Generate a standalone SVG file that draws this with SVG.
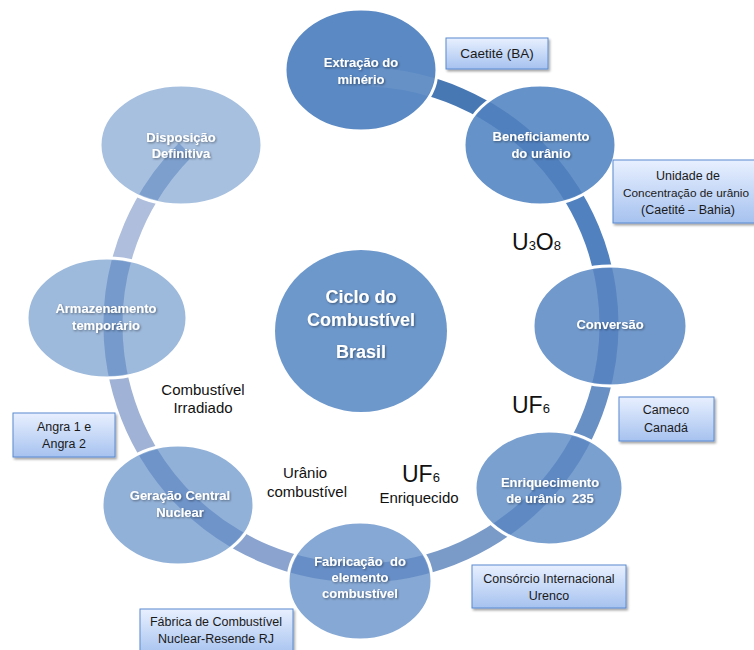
<svg xmlns="http://www.w3.org/2000/svg" width="754" height="650" viewBox="0 0 754 650">
<defs>
<style>
.seg{fill:none;stroke-width:19;stroke-linecap:butt}
.node{stroke:#fff;stroke-width:3}
.nt{font-family:"Liberation Sans",Arial,sans-serif;font-weight:bold;font-size:13px;fill:#fff;text-anchor:middle;filter:url(#ts)}
.ct{font-family:"Liberation Sans",Arial,sans-serif;font-weight:bold;font-size:18px;fill:#fff;text-anchor:middle;filter:url(#ts)}
.box{fill:url(#bg);stroke:#5a8ad0;stroke-width:1;filter:url(#bs)}
.bt{font-family:"Liberation Sans",Arial,sans-serif;font-size:12.5px;fill:#1a1a1a;text-anchor:middle}
.lb{font-family:"Liberation Sans",Arial,sans-serif;font-size:15px;fill:#111;text-anchor:middle}
.big{font-family:"Liberation Sans",Arial,sans-serif;font-size:23px;fill:#111}
.sub{font-size:13px}
</style>
<linearGradient id="bg" x1="0" y1="0" x2="0" y2="1">
<stop offset="0" stop-color="#e8f0ff"/>
<stop offset="1" stop-color="#a6c2ef"/>
</linearGradient>
<filter id="ts" x="-10%" y="-30%" width="120%" height="160%">
<feDropShadow dx="1" dy="1" stdDeviation="0.8" flood-color="#000" flood-opacity="0.45"/>
</filter>
<filter id="bs" x="-10%" y="-20%" width="125%" height="150%">
<feDropShadow dx="1.5" dy="2" stdDeviation="1.2" flood-color="#000" flood-opacity="0.35"/>
</filter>
<clipPath id="cin">
<ellipse cx="540" cy="145" rx="74" ry="58"/>
<ellipse cx="610" cy="326" rx="75" ry="58"/>
<ellipse cx="549" cy="488" rx="72" ry="55"/>
<ellipse cx="360" cy="581" rx="70" ry="57"/>
<ellipse cx="178" cy="505" rx="74" ry="58"/>
<ellipse cx="107" cy="318" rx="78" ry="58"/>
<ellipse cx="181" cy="145" rx="79" ry="58"/>
</clipPath>
<clipPath id="cex">
<ellipse cx="361" cy="70" rx="74" ry="59"/>
</clipPath>
</defs>
<rect width="754" height="650" fill="#fff"/>
<g id="connectors">
<path class="seg" stroke="#4878b4" d="M369.7 77.1 A248 248 0 0 1 535.7 149"/>
<path class="seg" stroke="#5182bf" d="M535.7 149 A248 248 0 0 1 609 325"/>
<path class="seg" stroke="#6890c4" d="M609 325 A248 248 0 0 1 548.2 487.7"/>
<path class="seg" stroke="#7a9ac8" d="M548.2 487.7 A248 248 0 0 1 361 573"/>
<path class="seg" stroke="#8aa4cf" d="M361 573 A248 248 0 0 1 184.1 498.8"/>
<path class="seg" stroke="#a0b2d5" d="M184.1 498.8 A248 248 0 0 1 113.1 318.1"/>
<path class="seg" stroke="#aebedc" d="M113.1 318.1 A248 248 0 0 1 185.6 149.6"/>
</g>
<g id="center">
<ellipse cx="361" cy="331" rx="86" ry="81" fill="#6d98cc"/>
<text class="ct" x="361" y="303">Ciclo do</text>
<text class="ct" x="361" y="326">Combustível</text>
<text class="ct" x="361" y="358">Brasil</text>
</g>
<g id="n1"><ellipse class="node" cx="361" cy="70" rx="76" ry="61" fill="#5b89c3"/></g>
<g id="n2"><ellipse class="node" cx="540" cy="145" rx="76" ry="60" fill="#6592c8"/></g>
<g id="n3"><ellipse class="node" cx="610" cy="326" rx="77" ry="60" fill="#7199cc"/></g>
<g id="n4"><ellipse class="node" cx="549" cy="488" rx="74" ry="57" fill="#7aa0d0"/></g>
<g id="n5"><ellipse class="node" cx="360" cy="581" rx="72" ry="59" fill="#86a8d4"/></g>
<g id="n6"><ellipse class="node" cx="178" cy="505" rx="76" ry="60" fill="#92b1d8"/></g>
<g id="n7"><ellipse class="node" cx="107" cy="318" rx="80" ry="60" fill="#9db9db"/></g>
<g id="n8"><ellipse class="node" cx="181" cy="145" rx="81" ry="60" fill="#a7c0df"/></g>
<g id="band">
<path clip-path="url(#cin)" fill="none" stroke="rgb(40,90,170)" stroke-opacity="0.33" stroke-width="19" d="M369.7 77.1 A248 248 0 1 1 185.6 149.6"/>
<path clip-path="url(#cex)" fill="none" stroke="#fff" stroke-opacity="0.07" stroke-width="19" d="M369.7 77.1 A248 248 0 0 1 535.7 149"/>
</g>
<g id="nodetext">
<text class="nt" x="361" y="67">Extração do</text>
<text class="nt" x="361" y="84">minério</text>
<text class="nt" x="541" y="141">Beneficiamento</text>
<text class="nt" x="541" y="158">do urânio</text>
<text class="nt" x="610" y="329">Conversão</text>
<text class="nt" x="550" y="487">Enriquecimento</text>
<text class="nt" x="550" y="503">de urânio&#160; 235</text>
<text class="nt" x="360" y="566">Fabricação&#160; do</text>
<text class="nt" x="360" y="582">elemento</text>
<text class="nt" x="360" y="598">combustível</text>
<text class="nt" x="180" y="500">Geração Central</text>
<text class="nt" x="180" y="517">Nuclear</text>
<text class="nt" x="106" y="313">Armazenamento</text>
<text class="nt" x="106" y="330">temporário</text>
<text class="nt" x="181" y="142">Disposição</text>
<text class="nt" x="181" y="158">Definitiva</text>
</g>
<g id="boxes">
<g id="b1"><rect class="box" x="446" y="38" width="102" height="31"/><text class="bt" x="497" y="58" style="font-size:13.5px">Caetité (BA)</text></g>
<g id="b2"><rect class="box" x="613" y="160" width="154" height="63"/><text class="bt" x="688" y="180">Unidade de</text><text class="bt" x="686" y="197" style="font-size:11.8px">Concentração de urânio</text><text class="bt" x="688" y="214">(Caetité – Bahia)</text></g>
<g id="b3"><rect class="box" x="619" y="397" width="95" height="44"/><text class="bt" x="666" y="414">Cameco</text><text class="bt" x="666" y="432">Canadá</text></g>
<g id="b4"><rect class="box" x="472" y="565" width="154" height="43"/><text class="bt" x="549" y="583">Consórcio Internacional</text><text class="bt" x="549" y="600">Urenco</text></g>
<g id="b5"><rect class="box" x="140" y="609" width="153" height="46"/><text class="bt" x="216" y="626">Fábrica de Combustível</text><text class="bt" x="216" y="643">Nuclear-Resende RJ</text></g>
<g id="b6"><rect class="box" x="13" y="413" width="102" height="44"/><text class="bt" x="64" y="431">Angra 1 e</text><text class="bt" x="64" y="448">Angra 2</text></g>
</g>
<g id="labels">
<text class="big" x="512" y="250">U<tspan class="sub">3</tspan>O<tspan class="sub">8</tspan></text>
<text class="big" x="512" y="413">UF<tspan class="sub">6</tspan></text>
<text class="big" x="402" y="482">UF<tspan class="sub">6</tspan></text>
<text class="lb" x="419" y="503">Enriquecido</text>
<text class="lb" x="305" y="478">Urânio</text>
<text class="lb" x="307" y="497">combustível</text>
<text class="lb" x="203" y="395">Combustível</text>
<text class="lb" x="203" y="413">Irradiado</text>
</g>
</svg>
